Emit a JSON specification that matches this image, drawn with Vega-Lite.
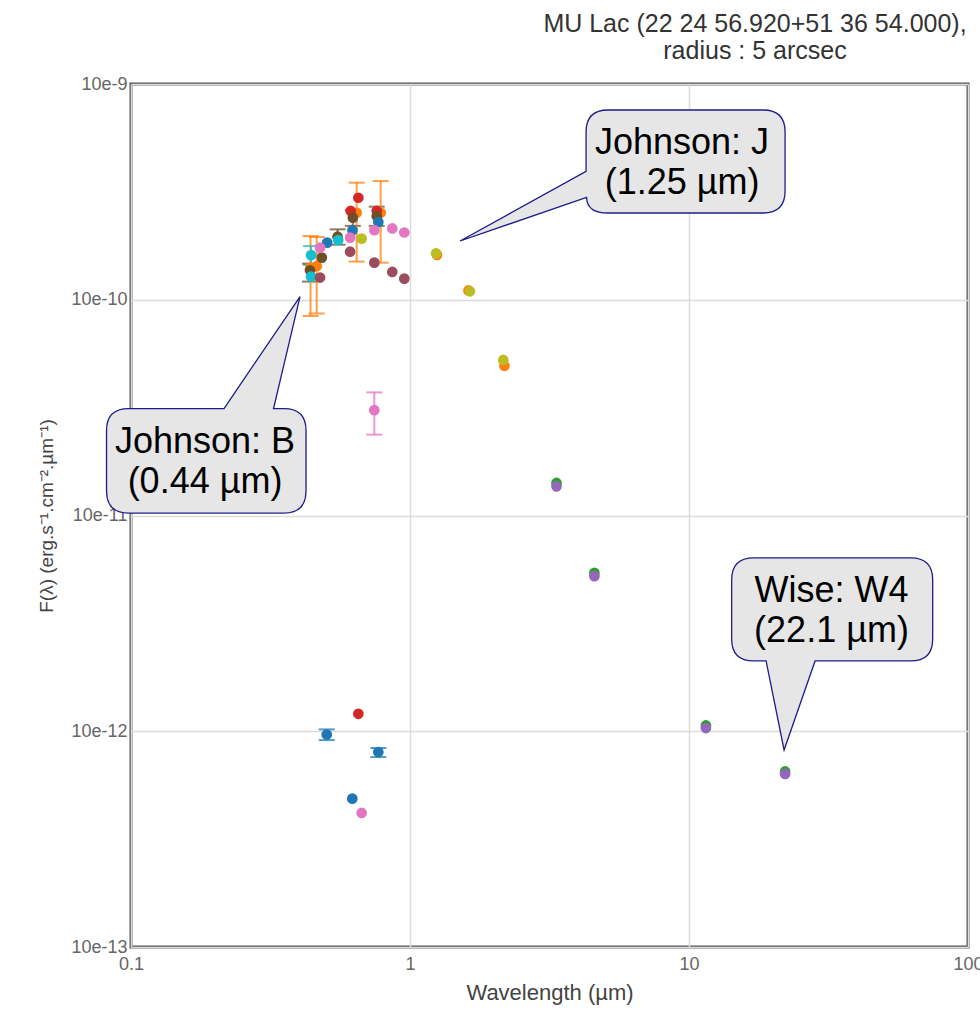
{
  "$schema": "https://vega.github.io/schema/vega-lite/v6.json",
  "width": 837,
  "height": 863,
  "autosize": {"type": "none"},
  "padding": {"left": 131, "top": 84, "right": 12, "bottom": 69},
  "background": "white",
  "config": {
    "font": "Liberation Sans",
    "view": {"stroke": "#555555", "strokeWidth": 3}
  },
  "title": {
    "text": ["MU Lac (22 24 56.920+51 36 54.000),", "radius : 5 arcsec"],
    "anchor": "end",
    "align": "center",
    "dx": -213,
    "frame": "group",
    "fontSize": 25,
    "fontWeight": "normal",
    "color": "#333333",
    "lineHeight": 27,
    "offset": 11
  },
  "datasets": {
    "pts": [
      {"s": "s1", "w": 0.44, "f": 1.41e-10, "lo": 8.41e-11, "hi": 1.974e-10},
      {"s": "s1", "w": 0.463, "f": 1.43e-10, "lo": 8.63e-11, "hi": 1.953e-10},
      {"s": "s1", "w": 0.644, "f": 2.53e-10, "lo": 1.503e-10, "hi": 3.49e-10},
      {"s": "s1", "w": 0.785, "f": 2.53e-10, "lo": 1.486e-10, "hi": 3.55e-10},
      {"s": "s1", "w": 1.25, "f": 1.615e-10},
      {"s": "s1", "w": 1.62, "f": 1.104e-10},
      {"s": "s1", "w": 2.18, "f": 4.94e-11},
      {"s": "s2", "w": 0.613, "f": 2.58e-10},
      {"s": "s2", "w": 0.653, "f": 2.97e-10},
      {"s": "s2", "w": 0.76, "f": 2.58e-10},
      {"s": "s2", "w": 0.653, "f": 1.205e-12},
      {"s": "s3", "w": 0.438, "f": 1.37e-10, "lo": 1.214e-10, "hi": 1.47e-10},
      {"s": "s3", "w": 0.483, "f": 1.568e-10},
      {"s": "s3", "w": 0.55, "f": 1.96e-10, "lo": 1.8e-10, "hi": 2.12e-10},
      {"s": "s3", "w": 0.624, "f": 2.4e-10, "lo": 2.2e-10, "hi": 2.6e-10},
      {"s": "s3", "w": 0.76, "f": 2.44e-10, "lo": 2.2e-10, "hi": 2.7e-10},
      {"s": "s4", "w": 0.505, "f": 1.84e-10},
      {"s": "s4", "w": 0.622, "f": 2.1e-10},
      {"s": "s4", "w": 0.77, "f": 2.29e-10},
      {"s": "s4", "w": 0.503, "f": 9.66e-13, "lo": 9.1e-13, "hi": 1.02e-12},
      {"s": "s4", "w": 0.77, "f": 8.01e-13, "lo": 7.59e-13, "hi": 8.36e-13},
      {"s": "s4", "w": 0.621, "f": 4.87e-13},
      {"s": "s5", "w": 0.476, "f": 1.745e-10},
      {"s": "s5", "w": 0.61, "f": 1.94e-10},
      {"s": "s5", "w": 0.745, "f": 2.1e-10},
      {"s": "s5", "w": 0.864, "f": 2.14e-10},
      {"s": "s5", "w": 0.954, "f": 2.05e-10},
      {"s": "s5", "w": 0.745, "f": 3.08e-11, "lo": 2.37e-11, "hi": 3.72e-11},
      {"s": "s5", "w": 0.671, "f": 4.18e-13},
      {"s": "s6", "w": 0.442, "f": 1.61e-10, "lo": 1.45e-10, "hi": 1.775e-10},
      {"s": "s6", "w": 0.442, "f": 1.28e-10},
      {"s": "s6", "w": 0.553, "f": 1.89e-10},
      {"s": "s7", "w": 0.671, "f": 1.92e-10},
      {"s": "s7", "w": 1.24, "f": 1.64e-10},
      {"s": "s7", "w": 1.64, "f": 1.094e-10},
      {"s": "s7", "w": 2.16, "f": 5.26e-11},
      {"s": "s8", "w": 0.476, "f": 1.267e-10},
      {"s": "s8", "w": 0.61, "f": 1.67e-10},
      {"s": "s8", "w": 0.745, "f": 1.486e-10},
      {"s": "s8", "w": 0.864, "f": 1.345e-10},
      {"s": "s8", "w": 0.954, "f": 1.253e-10},
      {"s": "s9", "w": 3.35, "f": 1.415e-11},
      {"s": "s9", "w": 4.58, "f": 5.42e-12},
      {"s": "s9", "w": 11.5, "f": 1.064e-12},
      {"s": "s9", "w": 22.1, "f": 6.51e-13},
      {"s": "s10", "w": 3.35, "f": 1.365e-11},
      {"s": "s10", "w": 4.58, "f": 5.23e-12},
      {"s": "s10", "w": 11.5, "f": 1.035e-12},
      {"s": "s10", "w": 22.1, "f": 6.34e-13}
    ],
    "notes": [
      {"band": "J", "w": 1.24, "f": 1.64e-10, "label": "Johnson: J\n(1.25 µm)"},
      {"band": "B", "w": 0.44, "f": 1.41e-10, "label": "Johnson: B\n(0.44 µm)"},
      {"band": "W4", "w": 22.1, "f": 6.34e-13, "label": "Wise: W4\n(22.1 µm)"}
    ]
  },
  "layer": [
    {
      "data": {"name": "pts"},
      "transform": [{"filter": "isValid(datum.lo)"}],
      "mark": {"type": "errorbar", "orient": "vertical", "thickness": 2, "size": 16, "ticks": {"opacity": 0.75}, "rule": {"opacity": 0.75}},
      "encoding": {
        "x": {"field": "w", "type": "quantitative", "title": "Wavelength (µm)", "scale": {"type": "log", "domain": [0.1, 100], "nice": false}},
        "y": {"field": "lo", "type": "quantitative", "title": "F(λ) (erg.s⁻¹.cm⁻².µm⁻¹)", "scale": {"type": "log", "domain": [1e-13, 1e-9], "nice": false}},
        "y2": {"field": "hi"},
        "color": {"field": "s", "type": "nominal", "legend": null,
          "scale": {"domain": ["s1","s2","s3","s4","s5","s6","s7","s8","s9","s10"],
                    "range": ["#ff7f0e","#d62728","#6f4f28","#1f77b4","#e377c2","#17becf","#bcbd22","#9d4b5e","#2ca02c","#9467bd"]}}
      }
    },
    {
      "data": {"name": "pts"},
      "mark": {"type": "circle", "size": 115, "opacity": 1},
      "encoding": {
        "x": {"field": "w", "type": "quantitative", "title": "Wavelength (µm)", "scale": {"type": "log", "domain": [0.1, 100], "nice": false},
          "axis": {"values": [0.1, 1, 10, 100], "format": "~g", "grid": true, "gridColor": "#dcdcdc", "gridWidth": 1.5,
            "ticks": false, "domain": false, "labelFlush": false, "labelOverlap": false, "labelFontSize": 18, "labelColor": "#666666", "labelPadding": 8,
            "titleFontSize": 22, "titleFontWeight": "normal", "titleColor": "#444444", "titlePadding": 9}},
        "y": {"field": "f", "type": "quantitative", "title": "F(λ) (erg.s⁻¹.cm⁻².µm⁻¹)", "scale": {"type": "log", "domain": [1e-13, 1e-9], "nice": false},
          "axis": {"values": [1e-13, 1e-12, 1e-11, 1e-10, 1e-9], "labelExpr": "'10e' + round(log(datum.value)/LN10)",
            "grid": true, "gridColor": "#dcdcdc", "gridWidth": 1.5, "ticks": false, "domain": false, "labelFlush": false, "labelOverlap": false,
            "labelFontSize": 18, "labelColor": "#666666", "labelPadding": 4, "titleFontSize": 19, "titleFontWeight": "normal", "titleColor": "#444444", "titlePadding": 14}},
        "color": {"field": "s", "type": "nominal", "legend": null}
      }
    },
    {
      "data": {"name": "notes"},
      "transform": [{"filter": "datum.band == 'J'"}],
      "mark": {"type": "point", "size": 4, "filled": true, "fill": "#e6e6e6", "stroke": "#1c1c8c", "strokeWidth": 1.3, "opacity": 1,
        "shape": "M 172 -143.4 L 327 -143.4 Q 349 -143.4 349 -121.4 L 349 -62.4 Q 349 -40.4 327 -40.4 L 172 -40.4 Q 151 -40.4 150.5 -56 L 24 -12.4 L 150 -82 L 150 -121.4 Q 150 -143.4 172 -143.4 Z"},
      "encoding": {
        "x": {"field": "w", "type": "quantitative", "title": "Wavelength (µm)"},
        "y": {"field": "f", "type": "quantitative", "title": "F(λ) (erg.s⁻¹.cm⁻².µm⁻¹)"}
      }
    },
    {
      "data": {"name": "notes"},
      "transform": [{"filter": "datum.band == 'B'"}],
      "mark": {"type": "point", "size": 4, "filled": true, "fill": "#e6e6e6", "stroke": "#1c1c8c", "strokeWidth": 1.3, "opacity": 1,
        "shape": "M -182 141 L -86.5 141 L -10.5 29 L -37 141 L -26.5 141 Q -4.5 141 -4.5 163 L -4.5 223.5 Q -4.5 245.5 -26.5 245.5 L -182 245.5 Q -204 245.5 -204 223.5 L -204 163 Q -204 141 -182 141 Z"},
      "encoding": {
        "x": {"field": "w", "type": "quantitative", "title": "Wavelength (µm)"},
        "y": {"field": "f", "type": "quantitative", "title": "F(λ) (erg.s⁻¹.cm⁻².µm⁻¹)"}
      }
    },
    {
      "data": {"name": "notes"},
      "transform": [{"filter": "datum.band == 'W4'"}],
      "mark": {"type": "point", "size": 4, "filled": true, "fill": "#e6e6e6", "stroke": "#1c1c8c", "strokeWidth": 1.3, "opacity": 1,
        "shape": "M -31.4 -216 L 125.6 -216 Q 147.6 -216 147.6 -194 L 147.6 -135 Q 147.6 -113 125.6 -113 L 30 -113 L -1 -24 L -19 -113 L -31.4 -113 Q -53.4 -113 -53.4 -135 L -53.4 -194 Q -53.4 -216 -31.4 -216 Z"},
      "encoding": {
        "x": {"field": "w", "type": "quantitative", "title": "Wavelength (µm)"},
        "y": {"field": "f", "type": "quantitative", "title": "F(λ) (erg.s⁻¹.cm⁻².µm⁻¹)"}
      }
    },
    {
      "data": {"name": "notes"},
      "transform": [{"filter": "datum.band == 'J'"}],
      "mark": {"type": "text", "font": "Liberation Sans", "fontSize": 36, "color": "#000000", "align": "center", "baseline": "alphabetic", "lineBreak": "\n", "lineHeight": 40, "dx": 246, "dy": -99.4},
      "encoding": {
        "x": {"field": "w", "type": "quantitative", "title": "Wavelength (µm)"},
        "y": {"field": "f", "type": "quantitative", "title": "F(λ) (erg.s⁻¹.cm⁻².µm⁻¹)"},
        "text": {"field": "label"}
      }
    },
    {
      "data": {"name": "notes"},
      "transform": [{"filter": "datum.band == 'B'"}],
      "mark": {"type": "text", "font": "Liberation Sans", "fontSize": 36, "color": "#000000", "align": "center", "baseline": "alphabetic", "lineBreak": "\n", "lineHeight": 40, "dx": -105.5, "dy": 185},
      "encoding": {
        "x": {"field": "w", "type": "quantitative", "title": "Wavelength (µm)"},
        "y": {"field": "f", "type": "quantitative", "title": "F(λ) (erg.s⁻¹.cm⁻².µm⁻¹)"},
        "text": {"field": "label"}
      }
    },
    {
      "data": {"name": "notes"},
      "transform": [{"filter": "datum.band == 'W4'"}],
      "mark": {"type": "text", "font": "Liberation Sans", "fontSize": 36, "color": "#000000", "align": "center", "baseline": "alphabetic", "lineBreak": "\n", "lineHeight": 40, "dx": 46.4, "dy": -172.3},
      "encoding": {
        "x": {"field": "w", "type": "quantitative", "title": "Wavelength (µm)"},
        "y": {"field": "f", "type": "quantitative", "title": "F(λ) (erg.s⁻¹.cm⁻².µm⁻¹)"},
        "text": {"field": "label"}
      }
    }
  ]
}
